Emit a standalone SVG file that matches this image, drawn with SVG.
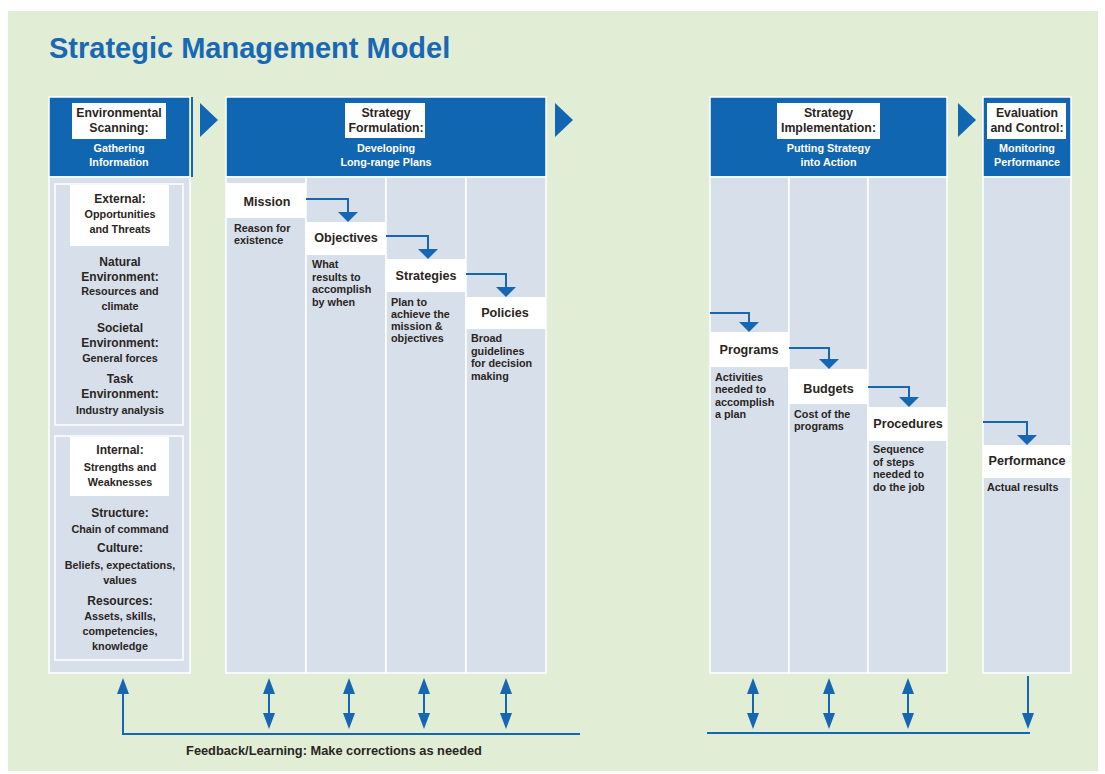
<svg xmlns="http://www.w3.org/2000/svg" width="1105" height="774" viewBox="0 0 1105 774">
<defs>
<style>
.bg{fill:#e1edd4}
.hdr{fill:#1166b1;stroke:#fff;stroke-width:1.5}
.col{fill:#d7dfeb;stroke:#fff;stroke-width:1.5}
.wb{fill:#fff}
text{font-family:"Liberation Sans",Arial,sans-serif;font-weight:bold;fill:#2a2522}
.title{font-size:29px;fill:#1868b4}
.ht{font-size:12.3px;text-anchor:middle}
.hs{font-size:10.8px;text-anchor:middle;fill:#fff}
.h2{font-size:12px;text-anchor:middle}
.s2{font-size:10.8px;text-anchor:middle}
.nl{font-size:12.6px;text-anchor:middle}
.ds{font-size:10.8px}
.fb{font-size:12.8px;text-anchor:middle}
.conn{stroke:#1566b3;stroke-width:2;fill:none}
.tri{fill:#1166b1}
</style>
<marker id="big" markerUnits="userSpaceOnUse" markerWidth="10" markerHeight="20" viewBox="0 0 10 20" refX="0" refY="10" orient="auto">
<path d="M0,0 L10,10 L0,20 Z" fill="#1566b3"/>
</marker>
<marker id="sm" markerUnits="userSpaceOnUse" markerWidth="16" markerHeight="12" viewBox="0 0 16 12" refX="0" refY="6" orient="auto-start-reverse">
<path d="M0,0 L16,6 L0,12 Z" fill="#1566b3"/>
</marker>
</defs>
<rect x="0" y="0" width="1105" height="774" fill="#fff"/>
<rect class="bg" x="8" y="11" width="1090" height="760"/>
<text class="title" x="49" y="58">Strategic Management Model</text>

<g id="environmental-scanning">
<rect class="hdr" x="49" y="97" width="141" height="80"/>
<line x1="192" y1="97" x2="192" y2="177" stroke="#1166b1" stroke-width="2"/>
<rect class="wb" x="72" y="103" width="94" height="36"/>
<text class="ht" x="119" y="117">Environmental</text>
<text class="ht" x="119" y="132">Scanning:</text>
<text class="hs" x="119" y="152">Gathering</text>
<text class="hs" x="119" y="166">Information</text>
<rect class="col" x="49" y="177" width="141" height="496"/>
</g>

<g id="external">
<rect class="col" x="55" y="184" width="128" height="241"/>
<rect class="wb" x="70" y="185" width="99" height="61"/>
<text class="h2" x="120" y="203">External:</text>
<text class="s2" x="120" y="218">Opportunities</text>
<text class="s2" x="120" y="233">and Threats</text>
<text class="h2" x="120" y="266">Natural</text>
<text class="h2" x="120" y="281">Environment:</text>
<text class="s2" x="120" y="295">Resources and</text>
<text class="s2" x="120" y="310">climate</text>
<text class="h2" x="120" y="332">Societal</text>
<text class="h2" x="120" y="347">Environment:</text>
<text class="s2" x="120" y="362">General forces</text>
<text class="h2" x="120" y="383">Task</text>
<text class="h2" x="120" y="398">Environment:</text>
<text class="s2" x="120" y="414">Industry analysis</text>
</g>

<g id="internal">
<rect class="col" x="55" y="436" width="128" height="224"/>
<rect class="wb" x="70" y="437" width="99" height="59"/>
<text class="h2" x="120" y="454">Internal:</text>
<text class="s2" x="120" y="471">Strengths and</text>
<text class="s2" x="120" y="486">Weaknesses</text>
<text class="h2" x="120" y="517">Structure:</text>
<text class="s2" x="120" y="533">Chain of command</text>
<text class="h2" x="120" y="552">Culture:</text>
<text class="s2" x="120" y="569">Beliefs, expectations,</text>
<text class="s2" x="120" y="584">values</text>
<text class="h2" x="120" y="605">Resources:</text>
<text class="s2" x="120" y="620">Assets, skills,</text>
<text class="s2" x="120" y="635">competencies,</text>
<text class="s2" x="120" y="650">knowledge</text>
</g>

<polygon class="tri" points="200,103 218,120 200,137"/>

<g id="strategy-formulation">
<rect class="hdr" x="226" y="97" width="320" height="80"/>
<rect class="wb" x="345" y="103" width="80" height="35"/>
<text class="ht" x="386" y="117">Strategy</text>
<text class="ht" x="386" y="132">Formulation:</text>
<text class="hs" x="386" y="152">Developing</text>
<text class="hs" x="386" y="166">Long-range Plans</text>
<rect class="col" x="226" y="177" width="80" height="496"/>
<rect class="col" x="306" y="177" width="80" height="496"/>
<rect class="col" x="386" y="177" width="80" height="496"/>
<rect class="col" x="466" y="177" width="80" height="496"/>
</g>

<g id="mission">
<rect class="wb" x="226" y="183" width="80" height="35"/>
<text class="nl" x="267" y="205.5">Mission</text>
<text class="ds" x="234" y="232">Reason for</text>
<text class="ds" x="234" y="244">existence</text>
</g>
<g id="objectives">
<rect class="wb" x="306" y="222" width="80" height="33"/>
<text class="nl" x="346" y="241.5">Objectives</text>
<text class="ds" x="312" y="268">What</text>
<text class="ds" x="312" y="280.5">results to</text>
<text class="ds" x="312" y="293">accomplish</text>
<text class="ds" x="312" y="305.5">by when</text>
</g>
<g id="strategies">
<rect class="wb" x="386" y="259" width="80" height="33"/>
<text class="nl" x="426" y="279.5">Strategies</text>
<text class="ds" x="391" y="306">Plan to</text>
<text class="ds" x="391" y="318">achieve the</text>
<text class="ds" x="391" y="330">mission &amp;</text>
<text class="ds" x="391" y="342">objectives</text>
</g>
<g id="policies">
<rect class="wb" x="466" y="297" width="80" height="32"/>
<text class="nl" x="505" y="316.5">Policies</text>
<text class="ds" x="471" y="342">Broad</text>
<text class="ds" x="471" y="354.5">guidelines</text>
<text class="ds" x="471" y="367">for decision</text>
<text class="ds" x="471" y="379.5">making</text>
</g>

<polygon class="tri" points="555,103 573,120 555,137"/>

<g id="strategy-implementation">
<rect class="hdr" x="710" y="97" width="237" height="80"/>
<rect class="wb" x="777" y="103" width="103" height="36"/>
<text class="ht" x="828.5" y="117">Strategy</text>
<text class="ht" x="828.5" y="132">Implementation:</text>
<text class="hs" x="828.5" y="152">Putting Strategy</text>
<text class="hs" x="828.5" y="166">into Action</text>
<rect class="col" x="710" y="177" width="79" height="496"/>
<rect class="col" x="789" y="177" width="79" height="496"/>
<rect class="col" x="868" y="177" width="79" height="496"/>
</g>

<g id="programs">
<rect class="wb" x="710" y="332" width="79" height="35"/>
<text class="nl" x="749" y="353.5">Programs</text>
<text class="ds" x="715" y="381">Activities</text>
<text class="ds" x="715" y="393">needed to</text>
<text class="ds" x="715" y="405.5">accomplish</text>
<text class="ds" x="715" y="418">a plan</text>
</g>
<g id="budgets">
<rect class="wb" x="789" y="369" width="79" height="35"/>
<text class="nl" x="828.5" y="392.5">Budgets</text>
<text class="ds" x="794" y="418">Cost of the</text>
<text class="ds" x="794" y="430">programs</text>
</g>
<g id="procedures">
<rect class="wb" x="868" y="407" width="79" height="34"/>
<text class="nl" x="908" y="427.5">Procedures</text>
<text class="ds" x="873" y="453">Sequence</text>
<text class="ds" x="873" y="465.5">of steps</text>
<text class="ds" x="873" y="478">needed to</text>
<text class="ds" x="873" y="490.5">do the job</text>
</g>

<polygon class="tri" points="958,103 976,120 958,137"/>

<g id="evaluation-control">
<rect class="hdr" x="983" y="97" width="88" height="80"/>
<rect class="wb" x="987" y="103" width="79" height="36"/>
<text class="ht" x="1027" y="117">Evaluation</text>
<text class="ht" x="1027" y="132">and Control:</text>
<text class="hs" x="1027" y="152">Monitoring</text>
<text class="hs" x="1027" y="166">Performance</text>
<rect class="col" x="983" y="177" width="88" height="496"/>
</g>
<g id="performance">
<rect class="wb" x="983" y="445" width="88" height="33"/>
<text class="nl" x="1027" y="464.5">Performance</text>
<text class="ds" x="987" y="491">Actual results</text>
</g>

<g id="connectors">
<path class="conn" d="M306,199 H348 V212" marker-end="url(#big)"/>
<path class="conn" d="M386,236 H428 V249" marker-end="url(#big)"/>
<path class="conn" d="M466,274 H506 V287" marker-end="url(#big)"/>
<path class="conn" d="M710,313 H749 V322" marker-end="url(#big)"/>
<path class="conn" d="M789,348 H829 V359" marker-end="url(#big)"/>
<path class="conn" d="M868,387 H909 V397" marker-end="url(#big)"/>
<path class="conn" d="M983,422 H1027 V435" marker-end="url(#big)"/>
<path class="conn" d="M580,734 H123 V694" marker-end="url(#sm)"/>
<path class="conn" d="M269,694 V713" marker-start="url(#sm)" marker-end="url(#sm)"/>
<path class="conn" d="M349,694 V713" marker-start="url(#sm)" marker-end="url(#sm)"/>
<path class="conn" d="M424,694 V713" marker-start="url(#sm)" marker-end="url(#sm)"/>
<path class="conn" d="M506,694 V713" marker-start="url(#sm)" marker-end="url(#sm)"/>
<path class="conn" d="M707,733 H1030"/>
<path class="conn" d="M753,694 V713" marker-start="url(#sm)" marker-end="url(#sm)"/>
<path class="conn" d="M829,694 V713" marker-start="url(#sm)" marker-end="url(#sm)"/>
<path class="conn" d="M908,694 V713" marker-start="url(#sm)" marker-end="url(#sm)"/>
<path class="conn" d="M1028,676 V713" marker-end="url(#sm)"/>
</g>
<text class="fb" x="334" y="755">Feedback/Learning: Make corrections as needed</text>
</svg>
